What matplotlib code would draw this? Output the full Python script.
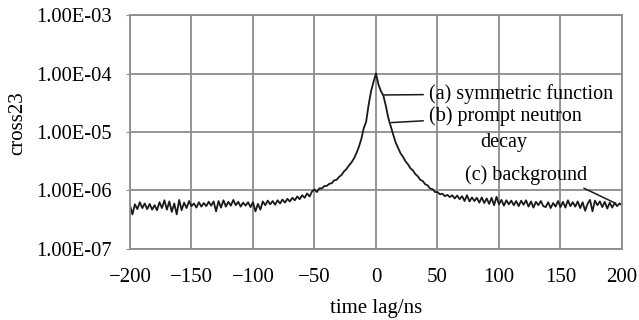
import numpy as np
import matplotlib
matplotlib.use('Agg')
import matplotlib.pyplot as plt
from matplotlib.ticker import FixedLocator, FuncFormatter, NullLocator

plt.rcParams['font.family'] = ['Liberation Serif', 'DejaVu Serif']
plt.rcParams['axes.unicode_minus'] = True

# time lag (ns), every 2 ns
time_lag = np.arange(-200, 201, 2)

# cross23, in units of 1e-7
left_bg = [5.6, 3.9, 5.8, 4.8, 6.3, 5.0, 6.0, 4.8, 5.9, 4.7,
           5.6, 4.6, 6.3, 5.0, 6.8, 4.7, 6.5, 4.3, 6.0, 3.9,
           6.9, 4.6, 6.2, 5.0, 6.6, 5.4, 6.0, 5.1, 6.3, 5.3,
           6.1, 5.4, 6.4, 5.5, 6.5, 4.4, 6.6, 5.1, 6.8, 5.3,
           6.4, 5.5, 6.9, 5.6, 6.4, 5.3, 6.2, 5.5, 6.3, 5.2]          # -200 .. -102
left_rise = [6.3, 4.4, 5.9, 4.7, 6.5, 5.6, 6.7, 5.8, 6.6, 5.7,
             6.8, 6.0, 7.0, 6.2, 7.2, 6.5, 7.5, 6.8, 7.9, 7.1,
             8.3, 7.5, 8.9, 7.9, 9.6, 10.4, 9.4, 10.9, 10.8, 11.9,
             12.0, 13.0, 13.3, 14.9, 15.2, 17.1, 18.4, 21.2, 23.3, 26.8,
             30.0, 35.0, 43.0, 55.0, 75.0, 115.0, 150.0, 290.0, 500.0, 720.0]  # -100 .. -2
peak = [1000.0]                                                        # 0
right_fall = [650.0, 500.0, 420.0, 280.0, 175.0, 125.0, 90.0, 66.0, 53.0, 43.0,
              37.5, 31.5, 28.0, 24.0, 22.0, 19.0, 17.5, 15.2, 14.5, 12.8,
              12.2, 10.8, 10.5, 9.4, 9.4, 8.6, 8.8, 8.0, 8.4, 7.7,
              8.3, 7.3, 8.2, 7.1, 8.0, 6.6, 8.3, 6.5, 7.6, 6.6,
              7.5, 6.2, 7.6, 6.1, 7.3, 5.9, 7.5, 5.6, 7.8, 5.8]        # 2 .. 100
right_bg = [6.9, 5.5, 6.8, 5.8, 6.7, 5.6, 6.6, 5.4, 6.7, 5.7,
            6.8, 5.3, 6.5, 5.1, 6.4, 5.6, 6.6, 5.4, 5.2, 6.3,
            5.0, 6.1, 5.3, 6.6, 5.2, 6.4, 5.1, 6.8, 5.4, 6.3,
            5.3, 6.5, 5.0, 6.3, 4.5, 5.9, 6.9, 4.4, 6.7, 5.6,
            6.5, 5.2, 6.4, 4.9, 6.2, 5.1, 6.1, 5.4, 6.0, 5.6]          # 102 .. 200
cross23 = np.array(left_bg + left_rise + peak + right_fall + right_bg) * 1e-7

x_ticks = [-200, -150, -100, -50, 0, 50, 100, 150, 200]
y_ticks = [1e-7, 1e-6, 1e-5, 1e-4, 1e-3]

grid_col = '#8c8c8c'
ink = '#1a1a1a'

fig = plt.figure(figsize=(6.39, 3.20), dpi=100)
ax = fig.add_axes([0.2034, 0.222, 0.770, 0.731])

ax.plot(time_lag, cross23, color=ink, lw=1.3)

ax.set_yscale('log')
ax.set_xlim(-200, 200)
ax.set_ylim(1e-7, 1e-3)
ax.xaxis.set_major_locator(FixedLocator(x_ticks))
ax.yaxis.set_major_locator(FixedLocator(y_ticks))
ax.yaxis.set_minor_locator(NullLocator())
ax.yaxis.set_major_formatter(FuncFormatter(lambda v, p: f"{v:.2E}"))

ax.grid(True, color=grid_col, lw=1.3)
ax.set_axisbelow(True)
for s in ax.spines.values():
    s.set_color(grid_col)
    s.set_linewidth(1.3)
ax.tick_params(axis='y', length=3, color=grid_col, labelsize=14.8, pad=10)
ax.tick_params(axis='x', length=0, labelsize=15, pad=14)

ax.set_xlabel('time lag/ns', fontsize=15, labelpad=8)
fig.text(0.028, 0.615, 'cross23', rotation=90, fontsize=15, ha='center', va='center')

# annotations
ax.annotate('(a) symmetric function', xy=(6.5, 4.3e-5), xytext=(43, 4.5e-5),
            fontsize=14.5, va='center', ha='left',
            arrowprops=dict(arrowstyle='-', color=ink, lw=1.1, shrinkB=0, shrinkA=2))
ax.annotate('(b) prompt neutron', xy=(12.5, 1.45e-5), xytext=(43, 1.85e-5),
            fontsize=14.5, va='center', ha='left',
            arrowprops=dict(arrowstyle='-', color=ink, lw=1.1, shrinkB=0, shrinkA=2))
ax.text(104, 6.5e-6, 'decay', fontsize=14.5, va='center', ha='center')
ax.annotate('(c) background', xy=(195, 6.0e-7), xytext=(72, 1.8e-6),
            fontsize=14.5, va='center', ha='left',
            arrowprops=dict(arrowstyle='-', color=ink, lw=1.1, shrinkA=0, shrinkB=0,
                            relpos=(0.93, 0.0)))

fig.savefig('out.png', dpi=100)
